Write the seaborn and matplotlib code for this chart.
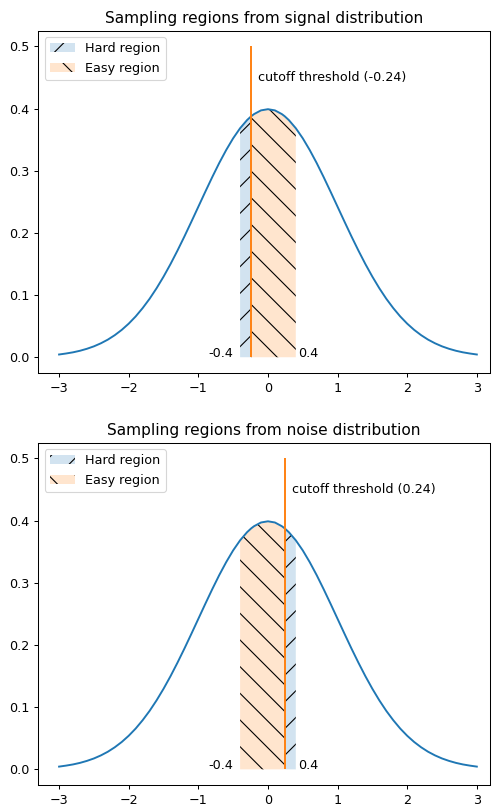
import matplotlib
matplotlib.use("Agg")
import numpy as np
import pandas as pd
import seaborn as sns
import matplotlib.pyplot as plt

# standard normal curve
x_vals = [-3.0, -2.9, -2.8, -2.7, -2.6, -2.5, -2.4, -2.3, -2.2, -2.1,
          -2.0, -1.9, -1.8, -1.7, -1.6, -1.5, -1.4, -1.3, -1.2, -1.1,
          -1.0, -0.9, -0.8, -0.7, -0.6, -0.5, -0.4, -0.3, -0.24, -0.2,
          -0.1, 0.0, 0.1, 0.2, 0.24, 0.3, 0.4, 0.5, 0.6, 0.7,
          0.8, 0.9, 1.0, 1.1, 1.2, 1.3, 1.4, 1.5, 1.6, 1.7,
          1.8, 1.9, 2.0, 2.1, 2.2, 2.3, 2.4, 2.5, 2.6, 2.7,
          2.8, 2.9, 3.0]
pdf_vals = [0.0044, 0.0060, 0.0079, 0.0104, 0.0136, 0.0175, 0.0224, 0.0283, 0.0355, 0.0440,
            0.0540, 0.0656, 0.0790, 0.0940, 0.1109, 0.1295, 0.1497, 0.1714, 0.1942, 0.2179,
            0.2420, 0.2661, 0.2897, 0.3123, 0.3332, 0.3521, 0.3683, 0.3814, 0.3876, 0.3910,
            0.3970, 0.3989, 0.3970, 0.3910, 0.3876, 0.3814, 0.3683, 0.3521, 0.3332, 0.3123,
            0.2897, 0.2661, 0.2420, 0.2179, 0.1942, 0.1714, 0.1497, 0.1295, 0.1109, 0.0940,
            0.0790, 0.0656, 0.0540, 0.0440, 0.0355, 0.0283, 0.0224, 0.0175, 0.0136, 0.0104,
            0.0079, 0.0060, 0.0044]

panel_titles = ["Sampling regions from signal distribution",
                "Sampling regions from noise distribution"]
cutoffs = [-0.24, 0.24]
hard_ranges = [(-0.4, -0.24), (0.24, 0.4)]
easy_ranges = [(-0.24, 0.4), (-0.4, 0.24)]
region_bounds = [-0.4, 0.4]

df = pd.DataFrame({"x": x_vals, "pdf": pdf_vals})

# figure at 80 dpi (keeps the hatch spacing), sizes scaled up a bit
DPI = 80
k = 1.15
plt.rcParams.update({
    "font.size": 10 * k,
    "lines.linewidth": 1.5 * k,
    "axes.linewidth": 0.8 * k,
    "xtick.major.size": 3.5 * k, "ytick.major.size": 3.5 * k,
    "xtick.major.width": 0.8 * k, "ytick.major.width": 0.8 * k,
    "xtick.major.pad": 3.5 * k, "ytick.major.pad": 3.5 * k,
    "axes.titlepad": 6.0 * k,
})

fig, axes = plt.subplots(2, 1, figsize=(496 / DPI, 810 / DPI), dpi=DPI)
fig.subplots_adjust(left=0.077, right=0.988, top=0.962, bottom=0.031, hspace=0.205)

blue = sns.color_palette()[0]
orange = sns.color_palette()[1]

for i, ax in enumerate(axes):
    sns.lineplot(data=df, x="x", y="pdf", ax=ax, color=blue)

    lo, hi = hard_ranges[i]
    part = df[(df["x"] >= lo) & (df["x"] <= hi)]
    ax.fill_between(part["x"], part["pdf"], facecolor=(*blue, 0.2),
                    edgecolor="black", linewidth=0, hatch="/", label="Hard region")
    lo, hi = easy_ranges[i]
    part = df[(df["x"] >= lo) & (df["x"] <= hi)]
    ax.fill_between(part["x"], part["pdf"], facecolor=(*orange, 0.2),
                    edgecolor="black", linewidth=0, hatch="\\", label="Easy region")

    c = cutoffs[i]
    ax.vlines(c, 0, 0.5, color=orange)
    ax.text(c + 0.1, 0.45, "cutoff threshold ({})".format(c), va="center")
    ax.text(region_bounds[0] - 0.1, 0, str(region_bounds[0]), ha="right")
    ax.text(region_bounds[1] + 0.03, 0, str(region_bounds[1]), ha="left")

    ax.set_xlim(-3.3, 3.19)
    ax.set_title(panel_titles[i])
    ax.set_xlabel("")
    ax.set_ylabel("")
    ax.legend(loc="upper left")

fig.savefig("out.png", dpi=DPI)
